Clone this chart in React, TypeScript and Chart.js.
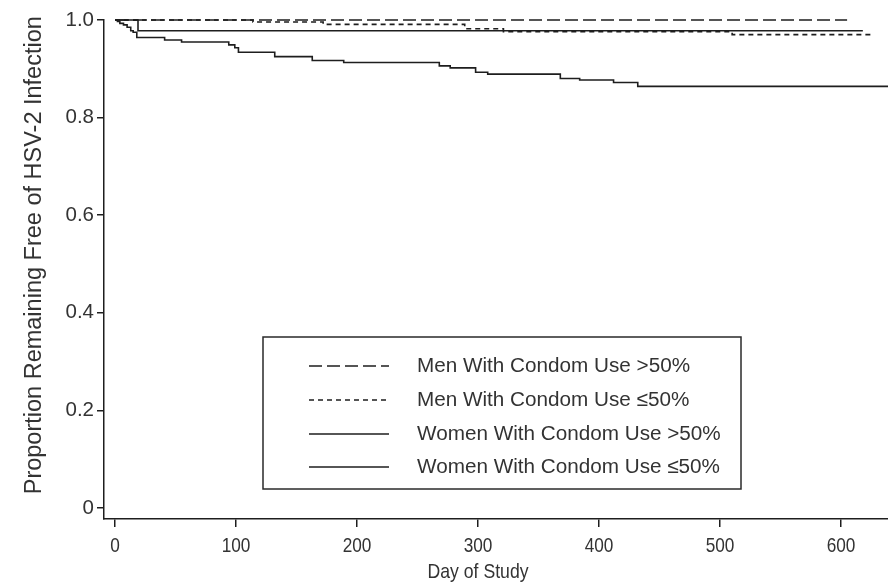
import React, { useEffect, useRef } from "react";
import { Chart, registerables } from "chart.js";

Chart.register(...registerables);

// ---- Data (Kaplan-Meier step points: day of drop, proportion after drop) ----
const menHighDays = [0, 605];
const menHighVals = [1.0, 1.0];

const menLowDays = [0, 114, 172, 289, 321, 510, 626];
const menLowVals = [1.0, 0.996, 0.991, 0.982, 0.976, 0.97, 0.97];

const womenHighDays = [0, 19, 618];
const womenHighVals = [1.0, 0.978, 0.978];

const womenLowDays = [0, 2, 4, 7, 10, 13, 15, 18, 41, 55, 94, 99, 102, 132, 163, 189, 268, 277, 298, 308, 368, 384, 412, 432, 639];
const womenLowVals = [1.0, 0.997, 0.993, 0.99, 0.985, 0.978, 0.975, 0.964, 0.959, 0.955, 0.949, 0.943, 0.934, 0.925, 0.917, 0.913, 0.906, 0.902, 0.893, 0.889, 0.88, 0.877, 0.872, 0.864, 0.864];

const xTicks = [0, 100, 200, 300, 400, 500, 600];
const xTickLabels = ["0", "100", "200", "300", "400", "500", "600"];
const yTicks = [0, 0.2, 0.4, 0.6, 0.8, 1.0];
const yTickLabels = ["0", "0.2", "0.4", "0.6", "0.8", "1.0"];

const seriesLabels = [
  "Men With Condom Use >50%",
  "Men With Condom Use \u226450%",
  "Women With Condom Use >50%",
  "Women With Condom Use \u226450%",
];
const xTitle = "Day of Study";
const yTitle = "Proportion Remaining Free of HSV-2 Infection";

const FONT = "'Liberation Sans', Arial, Helvetica, sans-serif";
const INK = "#1e1e1e";
const TEXT = "#333333";

const toPoints = (days: number[], vals: number[]) =>
  days.map((d, i) => ({ x: d, y: vals[i] }));

// draws horizontally condensed text (Helvetica-narrow look)
const narrowText = (ctx: any, text: string, x: number, y: number, size: number, squeeze: number) => {
  ctx.save();
  ctx.translate(x, y);
  ctx.scale(squeeze, 1);
  ctx.font = `${size}px ${FONT}`;
  ctx.textAlign = "center";
  ctx.textBaseline = "middle";
  ctx.fillText(text, 0, 0);
  ctx.restore();
};

const customDraw = {
  id: "customDraw",
  afterDraw(chart: any) {
    const ctx = chart.ctx;
    const xs = chart.scales.x;
    const ys = chart.scales.y;
    ctx.save();
    ctx.fillStyle = TEXT;
    // x tick labels
    xTicks.forEach((v, i) => {
      narrowText(ctx, xTickLabels[i], xs.getPixelForValue(v), 546, 21, 0.82);
    });
    // axis titles
    narrowText(ctx, xTitle, xs.getPixelForValue(300), 572, 21, 0.84);
    ctx.save();
    ctx.translate(35, ys.getPixelForValue(0.518));
    ctx.rotate(-Math.PI / 2);
    ctx.font = `23.5px ${FONT}`;
    ctx.textAlign = "center";
    ctx.textBaseline = "middle";
    ctx.fillText(yTitle, 0, 0);
    ctx.restore();

    // legend box
    const bx = 263, by = 337, bw = 478, bh = 152;
    ctx.strokeStyle = "#2a2a2a";
    ctx.lineWidth = 1.5;
    ctx.strokeRect(bx, by, bw, bh);
    const rows = [366, 400, 434, 467];
    chart.data.datasets.forEach((ds: any, i: number) => {
      const y = rows[i];
      ctx.beginPath();
      ctx.setLineDash(ds.borderDash || []);
      ctx.strokeStyle = INK;
      ctx.lineWidth = 1.6;
      ctx.moveTo(309, y);
      ctx.lineTo(389, y);
      ctx.stroke();
      ctx.setLineDash([]);
      ctx.fillStyle = TEXT;
      ctx.textAlign = "left";
      ctx.textBaseline = "middle";
      ctx.font = `20.7px ${FONT}`;
      ctx.fillText(ds.label, 417, y);
    });
    ctx.restore();
  },
};

export default function App() {
  const ref = useRef<HTMLCanvasElement | null>(null);

  useEffect(() => {
    document.body.style.margin = "0";
    const canvas = ref.current;
    if (!canvas) return;
    const mk = (label: string, days: number[], vals: number[], dash: number[]) => ({
      label,
      data: toPoints(days, vals),
      borderColor: INK,
      borderWidth: 1.6,
      borderDash: dash,
      stepped: true,
      pointRadius: 0,
      fill: false,
      clip: false as any,
    });
    const chart = new Chart(canvas, {
      type: "line",
      data: {
        datasets: [
          mk(seriesLabels[0], menHighDays, menHighVals, [13, 5]),
          mk(seriesLabels[1], menLowDays, menLowVals, [5, 4]),
          mk(seriesLabels[2], womenHighDays, womenHighVals, []),
          mk(seriesLabels[3], womenLowDays, womenLowVals, []),
        ],
      },
      options: {
        responsive: false,
        animation: false,
        layout: { padding: { top: 20, right: 0, bottom: 0, left: 0 } },
        plugins: { legend: { display: false }, tooltip: { enabled: false } },
        scales: {
          x: {
            type: "linear",
            min: -9.1,
            max: 638.8,
            afterBuildTicks: (s: any) => {
              s.ticks = xTicks.map((v) => ({ value: v }));
            },
            afterFit: (s: any) => {
              s.height = 65;
            },
            grid: {
              drawOnChartArea: false,
              drawTicks: true,
              tickLength: 8,
              color: INK,
              lineWidth: 1.5,
            },
            border: { display: true, color: INK, width: 1.5 },
            ticks: { display: false, autoSkip: false },
          },
          y: {
            type: "linear",
            min: -0.0225,
            max: 1.0,
            afterBuildTicks: (s: any) => {
              s.ticks = yTicks.map((v) => ({ value: v }));
            },
            afterFit: (s: any) => {
              s.width = 104;
            },
            grid: {
              drawOnChartArea: false,
              drawTicks: true,
              tickLength: 7,
              color: INK,
              lineWidth: 1.5,
            },
            border: { display: true, color: INK, width: 1.5 },
            ticks: {
              font: { family: FONT, size: 20.5 },
              color: TEXT,
              padding: 3,
              autoSkip: false,
              callback: (v: any) => {
                const i = yTicks.findIndex((t) => Math.abs(t - v) < 1e-9);
                return i >= 0 ? yTickLabels[i] : "";
              },
            },
          },
        },
      },
      plugins: [customDraw],
    });
    return () => chart.destroy();
  }, []);

  return (
    <div style={{ width: 888, height: 584, overflow: "hidden" }}>
      <canvas ref={ref} width={888} height={584} style={{ display: "block" }} />
    </div>
  );
}
